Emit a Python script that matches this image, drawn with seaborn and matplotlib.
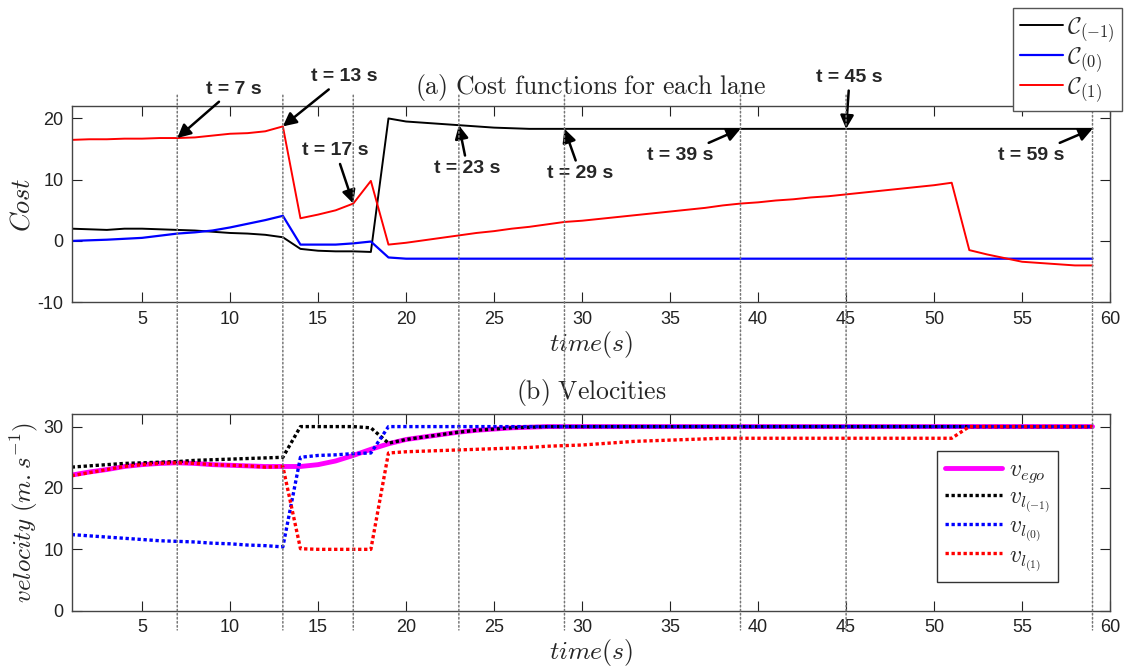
import pandas as pd
import matplotlib.pyplot as plt
import seaborn as sns
from matplotlib.patches import ConnectionPatch

# time axis (s)
time = list(range(1, 60))

# (a) cost functions per lane
cost_m1 = [
    2.0, 1.9, 1.8, 2.0, 2.0, 1.9, 1.8, 1.7, 1.5, 1.3,
    1.2, 1.0, 0.6, -1.3, -1.6, -1.7, -1.7, -1.8, 20.0, 19.5,
    19.3, 19.1, 18.9, 18.7, 18.5, 18.4, 18.3, 18.3, 18.3, 18.3,
    18.3, 18.3, 18.3, 18.3, 18.3, 18.3, 18.3, 18.3, 18.3, 18.3,
    18.3, 18.3, 18.3, 18.3, 18.3, 18.3, 18.3, 18.3, 18.3, 18.3,
    18.3, 18.3, 18.3, 18.3, 18.3, 18.3, 18.3, 18.3, 18.3,
]
cost_0 = [
    0.0, 0.1, 0.2, 0.35, 0.5, 0.85, 1.2, 1.4, 1.7, 2.2,
    2.8, 3.4, 4.1, -0.6, -0.6, -0.6, -0.4, -0.1, -2.7, -2.9,
    -2.9, -2.9, -2.9, -2.9, -2.9, -2.9, -2.9, -2.9, -2.9, -2.9,
    -2.9, -2.9, -2.9, -2.9, -2.9, -2.9, -2.9, -2.9, -2.9, -2.9,
    -2.9, -2.9, -2.9, -2.9, -2.9, -2.9, -2.9, -2.9, -2.9, -2.9,
    -2.9, -2.9, -2.9, -2.9, -2.9, -2.9, -2.9, -2.9, -2.9,
]
cost_1 = [
    16.5, 16.6, 16.6, 16.7, 16.7, 16.8, 16.8, 16.9, 17.2, 17.5,
    17.6, 17.9, 18.7, 3.7, 4.3, 5.0, 6.1, 9.8, -0.6, -0.3,
    0.1, 0.5, 0.9, 1.3, 1.6, 2.0, 2.3, 2.7, 3.1, 3.3,
    3.6, 3.9, 4.2, 4.5, 4.8, 5.1, 5.4, 5.8, 6.1, 6.3,
    6.6, 6.8, 7.1, 7.3, 7.6, 7.9, 8.2, 8.5, 8.8, 9.1,
    9.5, -1.5, -2.2, -2.8, -3.4, -3.6, -3.8, -4.0, -4.0,
]

# (b) velocities
v_ego = [
    22.1, 22.6, 23.0, 23.5, 23.8, 24.0, 24.1, 24.0, 23.8, 23.7,
    23.6, 23.5, 23.5, 23.5, 23.8, 24.4, 25.3, 26.3, 27.2, 27.9,
    28.3, 28.7, 29.1, 29.4, 29.6, 29.8, 29.9, 30.0, 30.0, 30.0,
    30.0, 30.0, 30.0, 30.0, 30.0, 30.0, 30.0, 30.0, 30.0, 30.0,
    30.0, 30.0, 30.0, 30.0, 30.0, 30.0, 30.0, 30.0, 30.0, 30.0,
    30.0, 30.0, 30.0, 30.0, 30.0, 30.0, 30.0, 30.0, 30.0,
]
v_lm1 = [
    23.4, 23.6, 23.8, 24.0, 24.1, 24.2, 24.3, 24.5, 24.6, 24.7,
    24.8, 24.9, 25.0, 30.0, 30.0, 30.0, 30.0, 29.8, 27.3, 27.9,
    28.3, 28.7, 29.1, 29.4, 29.6, 29.8, 29.9, 30.0, 30.0, 30.0,
    30.0, 30.0, 30.0, 30.0, 30.0, 30.0, 30.0, 30.0, 30.0, 30.0,
    30.0, 30.0, 30.0, 30.0, 30.0, 30.0, 30.0, 30.0, 30.0, 30.0,
    30.0, 30.0, 30.0, 30.0, 30.0, 30.0, 30.0, 30.0, 30.0,
]
v_l0 = [
    12.4, 12.2, 12.0, 11.8, 11.6, 11.4, 11.3, 11.2, 11.0, 10.9,
    10.7, 10.6, 10.4, 25.0, 25.3, 25.4, 25.6, 25.7, 30.0, 30.0,
    30.0, 30.0, 30.0, 30.0, 30.0, 30.0, 30.0, 30.0, 30.0, 30.0,
    30.0, 30.0, 30.0, 30.0, 30.0, 30.0, 30.0, 30.0, 30.0, 30.0,
    30.0, 30.0, 30.0, 30.0, 30.0, 30.0, 30.0, 30.0, 30.0, 30.0,
    30.0, 30.0, 30.0, 30.0, 30.0, 30.0, 30.0, 30.0, 30.0,
]
v_l1 = [
    22.0, 22.5, 23.0, 23.5, 23.8, 24.0, 24.1, 24.0, 23.8, 23.7,
    23.6, 23.4, 23.5, 10.1, 10.0, 10.0, 10.0, 10.0, 25.7, 25.9,
    26.0, 26.1, 26.2, 26.3, 26.4, 26.5, 26.6, 26.8, 26.9, 27.0,
    27.2, 27.4, 27.6, 27.7, 27.8, 27.9, 28.0, 28.1, 28.1, 28.1,
    28.1, 28.1, 28.1, 28.1, 28.1, 28.1, 28.1, 28.1, 28.1, 28.1,
    28.1, 30.0, 30.0, 30.0, 30.0, 30.0, 30.0, 30.0, 30.0,
]

# event times marked with dotted lines / arrows
event_times = [7, 13, 17, 23, 29, 39, 45, 59]
event_labels = ["t = 7 s", "t = 13 s", "t = 17 s", "t = 23 s",
                "t = 29 s", "t = 39 s", "t = 45 s", "t = 59 s"]
event_series = ["c1", "c1", "c1", "cm1", "cm1", "cm1", "cm1", "cm1"]
# label positions (data coords of top panel)
label_pos = [(10.2, 24.8), (16.5, 26.8), (16.0, 14.7), (23.5, 11.8),
             (29.9, 11.0), (35.6, 14.0), (45.2, 26.7), (55.5, 14.0)]

df = pd.DataFrame({"time": time, "cm1": cost_m1, "c0": cost_0, "c1": cost_1,
                   "v_ego": v_ego, "v_lm1": v_lm1, "v_l0": v_l0, "v_l1": v_l1})

sns.set_style("ticks")
plt.rcParams['font.family'] = ['Liberation Sans', 'DejaVu Sans']
plt.rcParams['mathtext.fontset'] = 'cm'
plt.rcParams['axes.unicode_minus'] = False

fig = plt.figure(figsize=(11.3, 6.7), dpi=100)
ax1 = fig.add_axes([0.0634, 0.549, 0.919, 0.2925])
ax2 = fig.add_axes([0.0634, 0.0885, 0.919, 0.2931])

# Cost graph
sns.lineplot(x="time", y="cm1", data=df, ax=ax1, color="black", lw=1.4,
             label=r"$\mathcal{C}_{(-1)}$", legend=False)
sns.lineplot(x="time", y="c0", data=df, ax=ax1, color="#0000ff", lw=1.6,
             label=r"$\mathcal{C}_{(0)}$", legend=False)
sns.lineplot(x="time", y="c1", data=df, ax=ax1, color="#ff0000", lw=1.4,
             label=r"$\mathcal{C}_{(1)}$", legend=False)

# Velocity graph
dots = (0, (1.0, 0.8))
sns.lineplot(x="time", y="v_ego", data=df, ax=ax2, color="#ff00ff", lw=3.5,
             label=r"$v_{ego}$", legend=False)
sns.lineplot(x="time", y="v_lm1", data=df, ax=ax2, color="black", lw=2.4,
             linestyle=dots, label=r"$v_{l_{(-1)}}$", legend=False)
sns.lineplot(x="time", y="v_l0", data=df, ax=ax2, color="#0000ff", lw=2.4,
             linestyle=dots, label=r"$v_{l_{(0)}}$", legend=False)
sns.lineplot(x="time", y="v_l1", data=df, ax=ax2, color="#ff0000", lw=2.4,
             linestyle=dots, label=r"$v_{l_{(1)}}$", legend=False)

for ax in (ax1, ax2):
    ax.set_xlim(1, 60)
    ax.set_xticks(range(5, 61, 5))
    ax.tick_params(direction="in", length=7, top=True, right=True,
                   labelsize=13, colors="#222222", pad=6)
    for sp in ax.spines.values():
        sp.set_color("#444444")
        sp.set_linewidth(1)
    ax.set_xlabel(r"$time(s)$", fontsize=18.5, labelpad=1)

ax1.set_ylim(-10, 22)
ax1.set_yticks([-10, 0, 10, 20])
ax2.set_ylim(0, 32)
ax2.set_yticks([0, 10, 20, 30])

ax1.set_ylabel(r"$Cost$", fontsize=19, labelpad=2)
ax2.set_ylabel(r"$velocity\ (m{.}s^{-1})$", fontsize=18, labelpad=2)
ax1.set_title(r"$\mathrm{(a)\ Cost\ functions\ for\ each\ lane}$", fontsize=18.5, pad=9)
ax2.set_title(r"$\mathrm{(b)\ Velocities}$", fontsize=18.5, pad=11)

# dotted event lines across both panels
for t in event_times:
    con = ConnectionPatch(xyA=(t, 1.056), coordsA=ax1.get_xaxis_transform(),
                          xyB=(t, -0.098), coordsB=ax2.get_xaxis_transform(),
                          color="#777777", ls=":", lw=1.1)
    fig.add_artist(con)

# arrows with labels
for t, lab, ser, (tx, ty) in zip(event_times, event_labels, event_series, label_pos):
    tip = df.loc[df["time"] == t, ser].values[0]
    ax1.annotate(lab, xy=(t, tip), xytext=(tx, ty), ha="center", va="center",
                 fontsize=14, fontweight="bold", annotation_clip=False,
                 arrowprops=dict(arrowstyle="-|>", color="black", lw=1.8,
                                 mutation_scale=20, shrinkA=1, shrinkB=0))

# Legends
h1, l1 = ax1.get_legend_handles_labels()
fig.legend(h1, l1, loc="upper left", bbox_to_anchor=(0.8965, 0.988),
           fontsize=17, frameon=True, fancybox=False, framealpha=1,
           edgecolor="#555555", handlelength=1.8, labelspacing=0.05,
           borderpad=0.3, handletextpad=0.2, borderaxespad=0)
h2, l2 = ax2.get_legend_handles_labels()
ax2.legend(h2, l2, loc="upper left", bbox_to_anchor=(0.833, 0.813),
           fontsize=17, frameon=True, fancybox=False, framealpha=1,
           edgecolor="#333333", handlelength=2.4, labelspacing=0.02,
           borderpad=0.35, handletextpad=0.3, borderaxespad=0)

plt.savefig("out.png", dpi=100)
